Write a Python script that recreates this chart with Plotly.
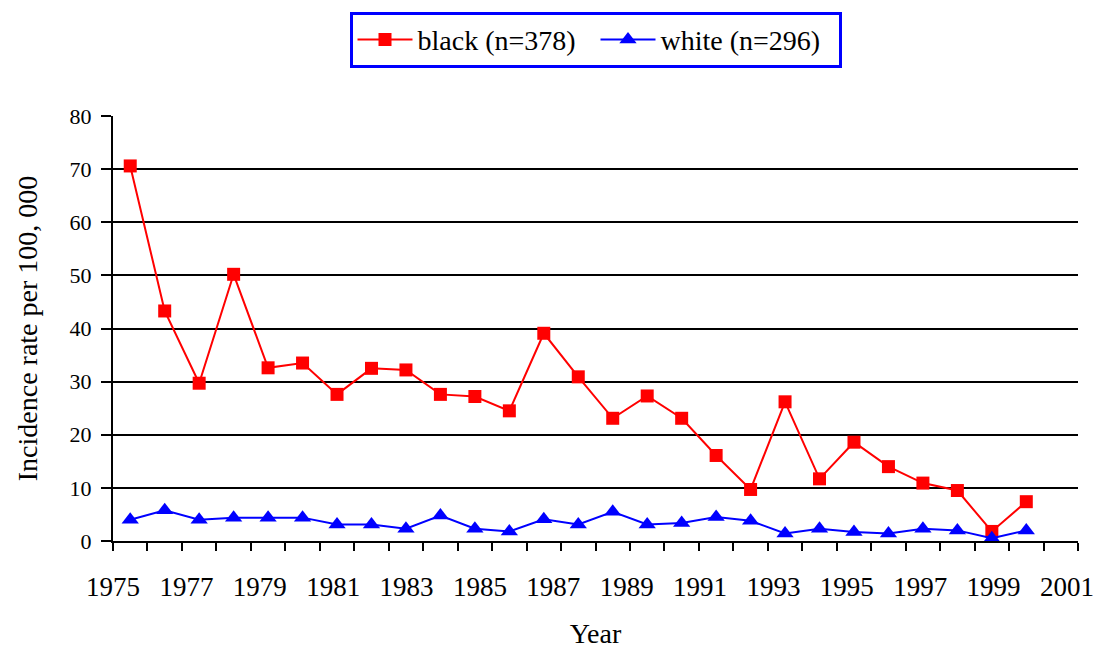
import plotly.graph_objects as go

# Points sit at the centres of 28 equal category slots along the x axis
slot_pos = [0.5, 1.5, 2.5, 3.5, 4.5, 5.5, 6.5, 7.5, 8.5, 9.5, 10.5, 11.5,
            12.5, 13.5, 14.5, 15.5, 16.5, 17.5, 18.5, 19.5, 20.5, 21.5,
            22.5, 23.5, 24.5, 25.5, 26.5]

black_rate = [70.6, 43.3, 29.7, 50.2, 32.6, 33.5, 27.6, 32.5, 32.2, 27.6,
              27.2, 24.5, 39.1, 30.9, 23.1, 27.3, 23.1, 16.1, 9.7, 26.2,
              11.7, 18.6, 14.0, 10.9, 9.5, 1.8, 7.4]

white_rate = [4.0, 5.8, 4.0, 4.4, 4.4, 4.4, 3.1, 3.1, 2.3, 4.8,
              2.3, 1.8, 4.1, 3.1, 5.5, 3.1, 3.4, 4.5, 3.8, 1.4,
              2.3, 1.7, 1.4, 2.3, 2.0, 0.5, 2.0]

black_name = "black (n=378)"
white_name = "white (n=296)"

slot_count = 28
year_label_range = [1975, 2001.3]
y_range = [0, 80]

FONT = "Liberation Serif, Times New Roman, serif"

fig = go.Figure()
fig.add_trace(go.Scatter(
    x=slot_pos, y=black_rate, name=black_name, mode="lines+markers",
    line=dict(color="#FF0000", width=2),
    marker=dict(symbol="square", size=13, color="#FF0000"),
))
fig.add_trace(go.Scatter(
    x=slot_pos, y=white_rate, name=white_name, mode="lines+markers",
    line=dict(color="#0000FF", width=2),
    marker=dict(symbol="triangle-up", size=15, color="#0000FF"),
))
# empty trace so that the year-label axis is drawn
fig.add_trace(go.Scatter(x=[], y=[], xaxis="x2", yaxis="y",
                         showlegend=False, hoverinfo="skip"))

fig.update_layout(
    width=1099, height=650,
    margin=dict(l=113, r=21, t=104, b=109),
    paper_bgcolor="white", plot_bgcolor="white",
    font=dict(family=FONT, color="black"),
    showlegend=True,
    legend=dict(
        orientation="h", x=0.5, xanchor="center", y=1.245, yanchor="top",
        bordercolor="#0000FF", borderwidth=3, bgcolor="white",
        font=dict(family=FONT, size=28, color="black"),
        itemwidth=55, entrywidth=173, entrywidthmode="pixels",
    ),
    xaxis=dict(
        range=[0, slot_count], tick0=0, dtick=1,
        ticks="outside", ticklen=8, tickwidth=2, tickcolor="black",
        showticklabels=False, showline=True, linecolor="black", linewidth=2,
        showgrid=False, zeroline=False, automargin=False,
    ),
    xaxis2=dict(
        overlaying="x", anchor="y", side="bottom",
        range=year_label_range, tick0=1975, dtick=2,
        ticks="outside", ticklen=22, tickcolor="rgba(0,0,0,0)",
        tickfont=dict(family=FONT, size=27, color="black"),
        ticklabeloverflow="allow",
        showline=False, showgrid=False, zeroline=False, automargin=False,
        title=dict(text="Year", font=dict(family=FONT, size=28, color="black"), standoff=21),
    ),
    yaxis=dict(
        range=y_range, tick0=0, dtick=10,
        ticks="outside", ticklen=10, tickwidth=2, tickcolor="black",
        tickfont=dict(family=FONT, size=22, color="black"),
        ticklabelstandoff=5,
        showline=True, linecolor="black", linewidth=2,
        showgrid=True, gridcolor="black", gridwidth=2, zeroline=False,
        automargin=False,
        title=dict(text="Incidence rate per 100, 000",
                   font=dict(family=FONT, size=28, color="black"), standoff=24),
    ),
)

fig.write_html("out.html", config={"displayModeBar": False},
               post_script="document.body.style.margin='0';")
